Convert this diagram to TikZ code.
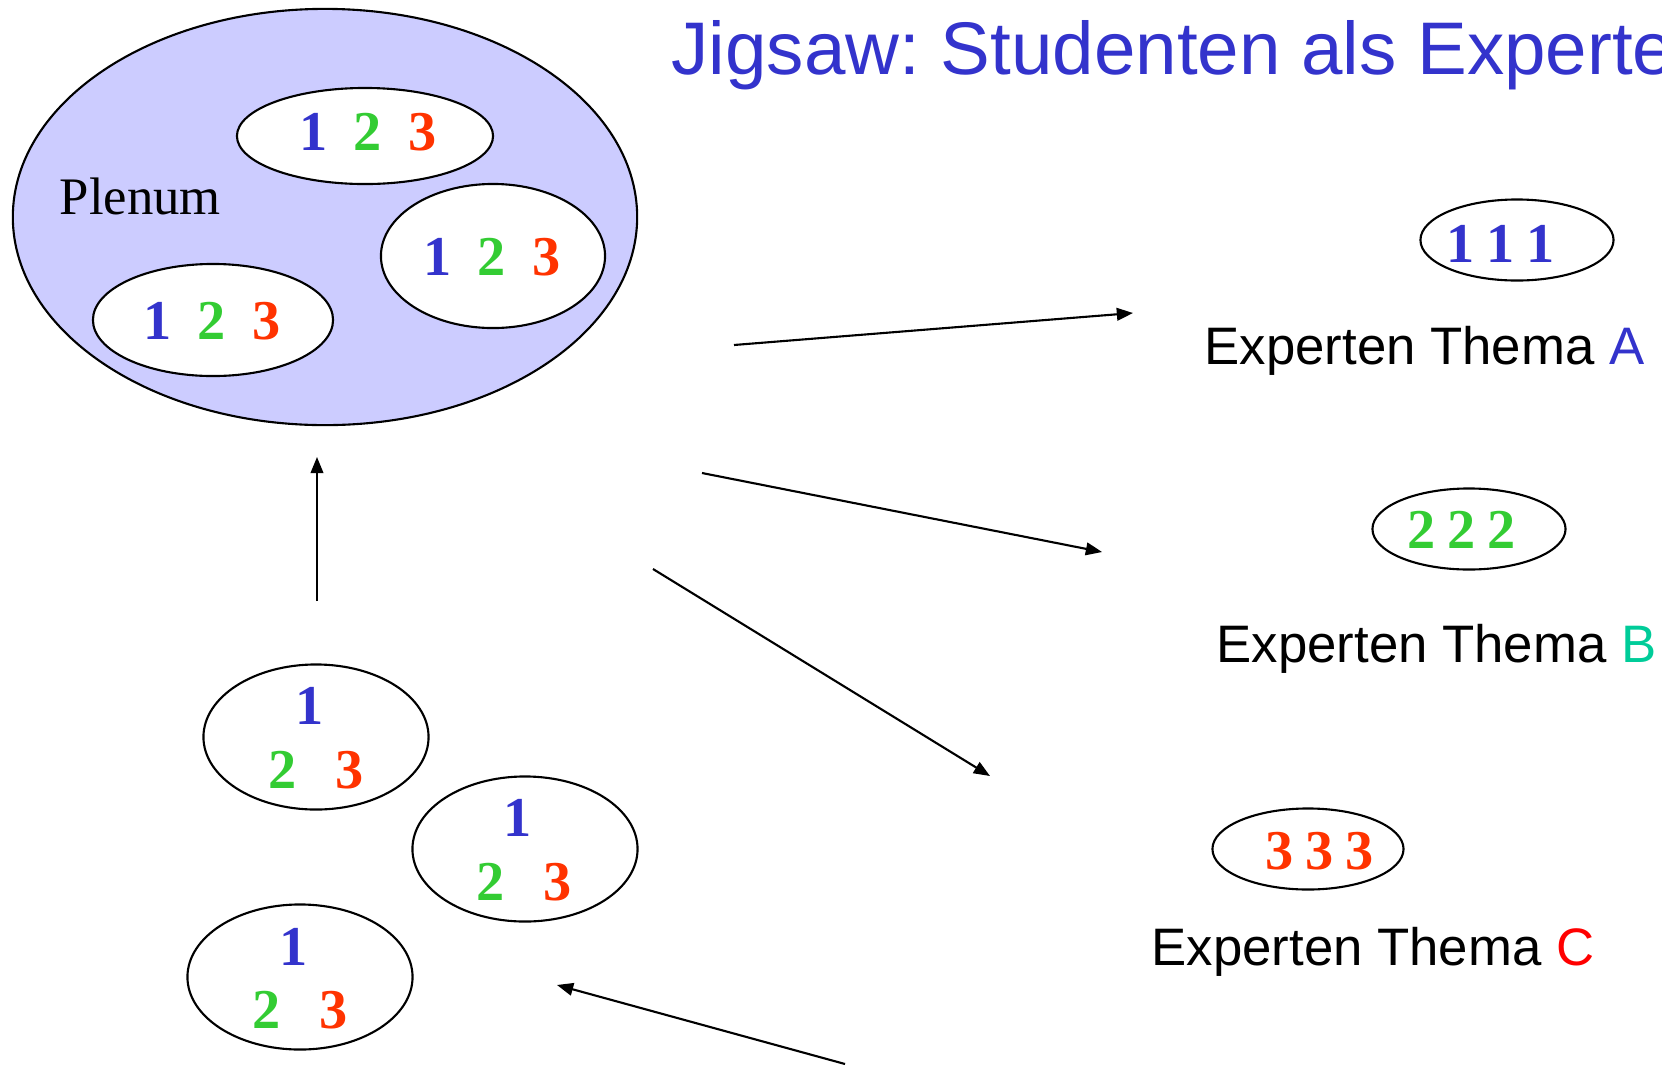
\documentclass[tikz,border=0pt]{standalone}
\usepackage{fontspec}
\setmainfont{Liberation Serif}
\newfontfamily\sansf{Liberation Sans}
\usetikzlibrary{arrows.meta,shapes.geometric}
\definecolor{cblue}{RGB}{51,51,204}
\definecolor{cgreen}{RGB}{51,204,51}
\definecolor{cred}{RGB}{255,51,0}
\definecolor{cteal}{RGB}{0,204,153}
\definecolor{cpure}{RGB}{255,0,0}
\definecolor{plen}{RGB}{204,204,255}
\frenchspacing
\begin{document}
\begin{tikzpicture}[x=0.01cm,y=-0.01cm,
  grp/.style={ellipse,draw,line width=0.6pt,fill=white,inner sep=0pt},
  dig/.style={inner sep=0pt,font=\fontsize{16}{18}\selectfont\bfseries},
  lab/.style={inner sep=0pt,anchor=base west,font=\sansf\fontsize{15}{18}\selectfont},
  arr/.style={line width=0.6pt,-{Triangle[length=4.6pt,width=3.6pt]}}]
\useasboundingbox (0,0) rectangle (1662,1066);
\clip (0,0) rectangle (1662,1066);
% title
\node[inner sep=0pt,anchor=base west,text=cblue,font=\sansf\fontsize{21.2}{24}\selectfont] (title) at (671,74) {Jigsaw: Studenten als Experten};
% plenum
\node[ellipse,draw,line width=0.6pt,fill=plen,minimum width=6.24cm,minimum height=4.16cm] (plenum) at (325,217) {};
\node[inner sep=0pt,anchor=base west,font=\fontsize{15}{17}\selectfont] (plabel) at (59,214) {Plenum};
\node[grp,minimum width=2.56cm,minimum height=0.96cm] (pg1) at (365,136) {};
\node[grp,minimum width=2.24cm,minimum height=1.44cm] (pg2) at (493,256) {};
\node[grp,minimum width=2.40cm,minimum height=1.12cm] (pg3) at (213,320) {};
\node[dig] (pg1t) at (368,132) {\textcolor{cblue}{1}\hspace{7.5pt}\textcolor{cgreen}{2}\hspace{7.5pt}\textcolor{cred}{3}};
\node[dig] (pg2t) at (492,257) {\textcolor{cblue}{1}\hspace{7.5pt}\textcolor{cgreen}{2}\hspace{7.5pt}\textcolor{cred}{3}};
\node[dig] (pg3t) at (212,321) {\textcolor{cblue}{1}\hspace{7.5pt}\textcolor{cgreen}{2}\hspace{7.5pt}\textcolor{cred}{3}};
% experts
\node[ellipse,draw,line width=0.6pt,inner sep=0pt,minimum width=1.93cm,minimum height=0.81cm] (ea) at (1517,240) {};
\node[dig,text=cblue] (eat) at (1501,244) {1\hspace{3.4pt}1\hspace{3.4pt}1};
\node[lab] (la) at (1204,364) {Experten Thema \textcolor{cblue}{A}};
\node[ellipse,draw,line width=0.6pt,inner sep=0pt,minimum width=1.93cm,minimum height=0.81cm] (eb) at (1469,529) {};
\node[dig,text=cgreen] (ebt) at (1462,530) {2\hspace{3.4pt}2\hspace{3.4pt}2};
\node[lab] (lb) at (1216,662) {Experten Thema \textcolor{cteal}{B}};
\node[ellipse,draw,line width=0.6pt,inner sep=0pt,minimum width=1.91cm,minimum height=0.81cm] (ec) at (1308,849) {};
\node[dig,text=cred] (ect) at (1320,851) {3\hspace{3.4pt}3\hspace{3.4pt}3};
\node[lab] (lc) at (1151,965) {Experten Thema \textcolor{cpure}{C}};
% home groups
\node[grp,minimum width=2.25cm,minimum height=1.45cm] (h1) at (316,737) {};
\node[dig,text=cblue] (h1a) at (310,706) {1};
\node[dig,text=cgreen] (h1b) at (283,770) {2};
\node[dig,text=cred] (h1c) at (350,770) {3};
\node[grp,minimum width=2.25cm,minimum height=1.45cm] (h2) at (525,849) {};
\node[dig,text=cblue] (h2a) at (518,818) {1};
\node[dig,text=cgreen] (h2b) at (491,882) {2};
\node[dig,text=cred] (h2c) at (558,882) {3};
\node[grp,minimum width=2.25cm,minimum height=1.45cm] (h3) at (300,977) {};
\node[dig,text=cblue] (h3a) at (294,947) {1};
\node[dig,text=cgreen] (h3b) at (267,1010) {2};
\node[dig,text=cred] (h3c) at (334,1010) {3};
% arrow ends
\coordinate (upS) at (317,601);
\coordinate (upE) at (317,457);
\coordinate (aS) at (734,345);
\coordinate (aE) at (1133,313);
\coordinate (bS) at (702,473);
\coordinate (bE) at (1102,552);
\coordinate (cS) at (653,569);
\coordinate (cE) at (990,776);
\coordinate (dS) at (845,1064);
\coordinate (dE) at (557,985);
\draw[arr] (upS) -- (upE);
\draw[arr] (aS) -- (aE);
\draw[arr] (bS) -- (bE);
\draw[arr] (cS) -- (cE);
\draw[arr] (dS) -- (dE);
\end{tikzpicture}
\end{document}
